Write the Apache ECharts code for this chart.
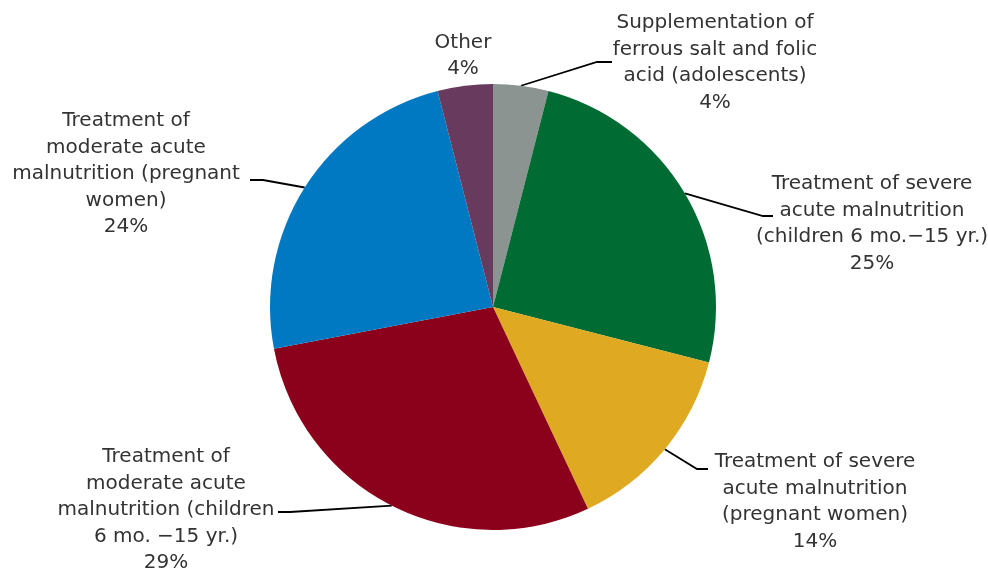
<!DOCTYPE html>
<html>
<head>
<meta charset="utf-8">
<script src="https://cdn.jsdelivr.net/npm/echarts@6/dist/echarts.min.js"></script>
<style>
html, body {margin: 0; padding: 0; background: #fff;}
#chart {width: 988px; height: 569px;}
</style>
</head>
<body>
<div id="chart"></div>
<script>
var categories = [
    'Supplementation of\nferrous salt and folic\nacid (adolescents)',
    'Treatment of severe\nacute malnutrition\n(children 6 mo.\u221215 yr.)',
    'Treatment of severe\nacute malnutrition\n(pregnant women)',
    'Treatment of\nmoderate acute\nmalnutrition (children\n6 mo. \u221215 yr.)',
    'Treatment of\nmoderate acute\nmalnutrition (pregnant\nwomen)',
    'Other'
];
var shares = [4, 25, 14, 29, 24, 4];
var colors = ['#8c9491', '#006b33', '#dfaa22', '#8b001a', '#0079c2', '#673a5e'];

// where each label block sits (centre) and where its leader line ends
var labelAt = [[715, 63], [872, 224], [815, 502], [166, 510], [126, 174], [463, 56]];
var lineTip = [[612, 62], [773, 216], [708, 469], [278, 512], [250, 180], null];
var elbowLen = [15, 10, 11, -12, -13, 0];

var chart = echarts.init(document.getElementById('chart'));

var pieData = [];
for (var i = 0; i < categories.length; i++) {
    pieData.push({
        name: categories[i],
        value: shares[i],
        itemStyle: {color: colors[i]},
        labelLine: {show: lineTip[i] != null}
    });
}

var option = {
    animation: false,
    backgroundColor: '#ffffff',
    series: [{
        type: 'pie',
        center: [493, 307],
        radius: 223,
        startAngle: 90,
        clockwise: true,
        avoidLabelOverlap: false,
        silent: true,
        data: pieData,
        label: {
            show: true,
            position: 'outside',
            formatter: function (p) {
                return p.name + '\n' + p.value + '%';
            },
            fontFamily: 'DejaVu Sans',
            fontSize: 20,
            lineHeight: 26.5,
            color: '#333333',
            align: 'center'
        },
        labelLine: {
            show: true,
            length: 10,
            length2: 10,
            lineStyle: {color: '#000000', width: 1.8}
        },
        labelLayout: function (params) {
            var k = params.dataIndex;
            var out = {
                x: labelAt[k][0],
                y: labelAt[k][1],
                align: 'center',
                verticalAlign: 'middle'
            };
            if (lineTip[k] && params.labelLinePoints) {
                var tip = lineTip[k];
                out.labelLinePoints = [
                    params.labelLinePoints[0],
                    [tip[0] - elbowLen[k], tip[1]],
                    [tip[0], tip[1]]
                ];
            }
            return out;
        }
    }]
};

chart.setOption(option);
</script>
</body>
</html>
